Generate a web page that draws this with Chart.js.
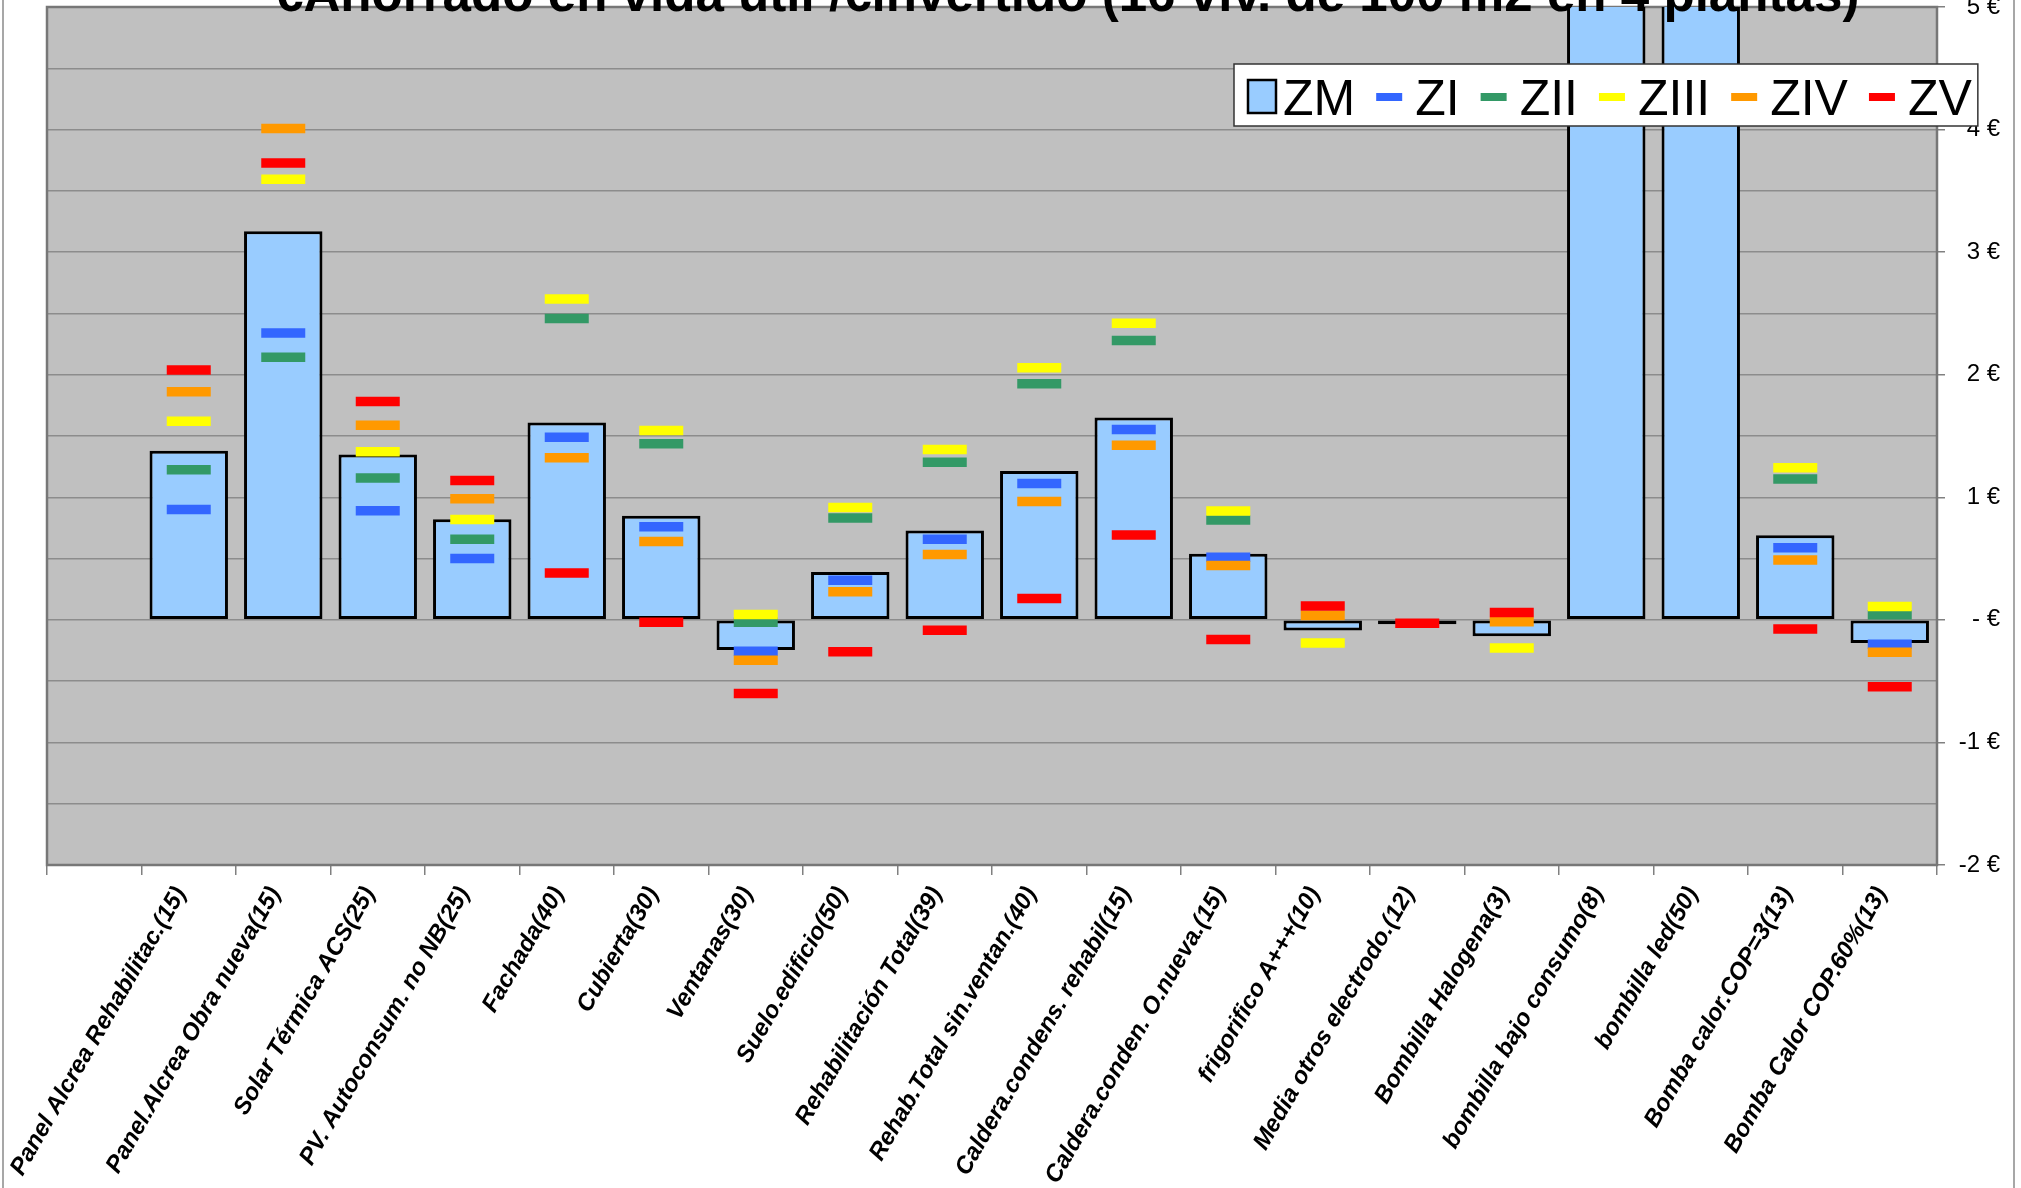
<!DOCTYPE html>
<html>
<head>
<meta charset="utf-8">
<script src="https://cdn.jsdelivr.net/npm/chart.js@4.4.0/dist/chart.umd.min.js"></script>
<style>
  html, body { margin: 0; padding: 0; background: #fff; }
  #wrap { position: relative; width: 2021px; height: 1188px; }
</style>
</head>
<body>
<div id="wrap"><canvas id="chart" width="2021" height="1188"></canvas></div>
<script>
const title = "€Ahorrado en vida útil /€invertido (16 viv. de 100 m2 en 4 plantas)";

// first category is left empty in the original sheet
const categories = [
    "", "Panel Alcrea Rehabilitac.(15)", "Panel.Alcrea Obra nueva(15)", "Solar Térmica ACS(25)",
    "PV. Autoconsum. no NB(25)", "Fachada(40)", "Cubierta(30)", "Ventanas(30)", "Suelo.edificio(50)",
    "Rehabilitación Total(39)", "Rehab.Total sin.ventan.(40)", "Caldera.condens. rehabil(15)",
    "Caldera.conden. O.nueva.(15)", "frigorifico A+++(10)", "Media otros electrodo.(12)",
    "Bombilla Halogena(3)", "bombilla bajo consumo(8)", "bombilla led(50)",
    "Bomba calor.COP=3(13)", "Bomba Calor COP.60%(13)",
];

const zm   = [null, 1.38, 3.17, 1.35, 0.82, 1.61, 0.85, -0.245, 0.39, 0.73, 1.215, 1.65, 0.54, -0.087, -0.035, -0.134, 6.8, 9.5, 0.69, -0.188];
const zi   = [null, 0.90, 2.34, 0.89, 0.50, 1.49, 0.76, -0.256, 0.324, 0.657, 1.112, 1.553, 0.51, null, null, null, null, null, 0.589, -0.20];
const zii  = [null, 1.225, 2.143, 1.158, 0.658, 2.459, 1.436, -0.02, 0.83, 1.286, 1.926, 2.28, 0.815, null, null, null, null, null, 1.15, 0.041];
const ziii = [null, 1.62, 3.594, 1.371, 0.819, 2.617, 1.545, 0.044, 0.916, 1.39, 2.057, 2.42, 0.888, -0.188, null, -0.23, null, null, 1.24, 0.109];
const ziv  = [null, 1.86, 4.009, 1.588, 0.988, 1.322, 0.64, -0.33, 0.229, 0.534, 0.965, 1.425, 0.444, 0.035, null, -0.016, null, null, 0.488, -0.264];
const zv   = [null, 2.038, 3.728, 1.781, 1.137, 0.383, -0.02, -0.6, -0.26, -0.084, 0.174, 0.692, -0.16, 0.114, -0.027, 0.06, null, null, -0.074, -0.545];

const yTickValues = [-2, -1, 0, 1, 2, 3, 4, 5];
const yTickLabels = ["-2 €", "-1 €", "- €", "1 €", "2 €", "3 €", "4 €", "5 €"];

const FONT = "'Liberation Sans', Arial, sans-serif";

const markerSeries = [
    { label: "ZI",   data: zi,   color: "#3366ff" },
    { label: "ZII",  data: zii,  color: "#339966" },
    { label: "ZIII", data: ziii, color: "#ffff00" },
    { label: "ZIV",  data: ziv,  color: "#ff9900" },
    { label: "ZV",   data: zv,   color: "#ff0000" },
];

// grey plot area + outer frame lines
const plotBackground = {
    id: "plotBackground",
    beforeDraw(chart) {
        const { ctx, chartArea: a } = chart;
        ctx.save();
        ctx.fillStyle = "#fff";
        ctx.fillRect(0, 0, chart.width, chart.height);
        ctx.fillStyle = "#c0c0c0";
        ctx.fillRect(a.left, a.top, a.right - a.left, a.bottom - a.top);
        ctx.strokeStyle = "#8a8a8a";
        ctx.lineWidth = 1.5;
        ctx.beginPath();
        ctx.moveTo(3, 0); ctx.lineTo(3, chart.height);
        ctx.moveTo(2014, 0); ctx.lineTo(2014, chart.height);
        ctx.stroke();
        ctx.restore();
    },
    beforeDatasetsDraw(chart) {
        const { ctx, chartArea: a } = chart;
        ctx.save();
        ctx.strokeStyle = "#777";
        ctx.lineWidth = 2.5;
        ctx.strokeRect(a.left, a.top, a.right - a.left, a.bottom - a.top);
        ctx.restore();
    },
};

// title (cut at the top edge) and the boxed legend, drawn over the bars
const overlay = {
    id: "overlay",
    afterDraw(chart) {
        const ctx = chart.ctx;
        ctx.save();

        ctx.font = `bold 100px ${FONT}`;
        const w100 = ctx.measureText(title).width;
        const size = 100 * 1585 / w100;
        ctx.font = `bold ${size}px ${FONT}`;
        ctx.fillStyle = "#000";
        ctx.textBaseline = "alphabetic";
        ctx.fillText(title, 275, 11);

        // legend
        ctx.font = `50px ${FONT}`;
        const x0 = 1234, y0 = 64, h = 62, pad = 14, gap = 21;
        const items = chart.data.datasets.map(ds => ({
            label: ds.label,
            color: ds.type === "bar" ? ds.backgroundColor : ds.pointBorderColor,
            box: ds.type === "bar",
        }));
        let width = pad;
        items.forEach((it, i) => {
            width += (it.box ? 28 + 7 : 26 + 13) + ctx.measureText(it.label).width;
            if (i < items.length - 1) width += gap;
        });
        width += 6;
        ctx.fillStyle = "#fff";
        ctx.fillRect(x0, y0, width, h);
        ctx.strokeStyle = "#333";
        ctx.lineWidth = 1.5;
        ctx.strokeRect(x0, y0, width, h);

        let x = x0 + pad;
        items.forEach(it => {
            if (it.box) {
                ctx.fillStyle = it.color;
                ctx.fillRect(x, 80, 28, 33);
                ctx.strokeStyle = "#000";
                ctx.lineWidth = 2.5;
                ctx.strokeRect(x, 80, 28, 33);
                x += 28 + 7;
            } else {
                ctx.fillStyle = it.color;
                ctx.fillRect(x, 93, 26, 8);
                x += 26 + 13;
            }
            ctx.fillStyle = "#000";
            ctx.fillText(it.label, x, 115);
            x += ctx.measureText(it.label).width + gap;
        });
        ctx.restore();
    },
};

new Chart(document.getElementById("chart"), {
    data: {
        labels: categories,
        datasets: [
            {
                type: "bar",
                label: "ZM",
                data: zm,
                backgroundColor: "#99ccff",
                borderColor: "#000",
                borderWidth: 3,
                borderSkipped: false,
                barPercentage: 0.83,
                categoryPercentage: 1,
                order: 10,
            },
            ...markerSeries.map((s, i) => ({
                type: "line",
                label: s.label,
                data: s.data,
                showLine: false,
                pointStyle: "line",
                pointRadius: 22,
                pointHoverRadius: 22,
                pointBorderWidth: 9.5,
                pointHoverBorderWidth: 9.5,
                pointBorderColor: s.color,
                pointBackgroundColor: s.color,
                borderColor: s.color,
                order: 5 - i,
            })),
        ],
    },
    options: {
        responsive: false,
        animation: false,
        layout: { autoPadding: false, padding: { left: 47, top: 7, right: 21, bottom: 0 } },
        plugins: {
            legend: { display: false },
            title: { display: false },
            tooltip: { enabled: false },
        },
        scales: {
            x: {
                grid: {
                    offset: true,
                    drawOnChartArea: false,
                    tickLength: 10,
                    tickColor: "#808080",
                    lineWidth: 1.5,
                },
                border: { display: false },
                ticks: {
                    autoSkip: false,
                    minRotation: 60,
                    maxRotation: 60,
                    padding: 7,
                    labelOffset: -8,
                    color: "#000",
                    font: { family: FONT, size: 24, weight: "bold", style: "italic" },
                },
                afterFit: (s) => { s.height = 323; s.paddingLeft = 0; s.paddingRight = 0; },
            },
            y: {
                position: "right",
                min: -2,
                max: 5,
                grid: {
                    color: "#8c8c8c",
                    lineWidth: 1.5,
                    tickLength: 8,
                    tickColor: (c) => (c.tick && yTickValues.includes(c.tick.value) ? "#808080" : "rgba(0,0,0,0)"),
                },
                border: { display: false },
                ticks: {
                    stepSize: 0.5,
                    crossAlign: "far",
                    padding: 12,
                    color: "#000",
                    font: { family: FONT, size: 24 },
                    callback: (v) => {
                        const i = yTickValues.indexOf(v);
                        return i >= 0 ? yTickLabels[i] : "";
                    },
                },
                afterFit: (s) => { s.width = 63; s.paddingTop = 0; s.paddingBottom = 0; },
            },
        },
    },
    plugins: [plotBackground, overlay],
});
</script>
</body>
</html>
